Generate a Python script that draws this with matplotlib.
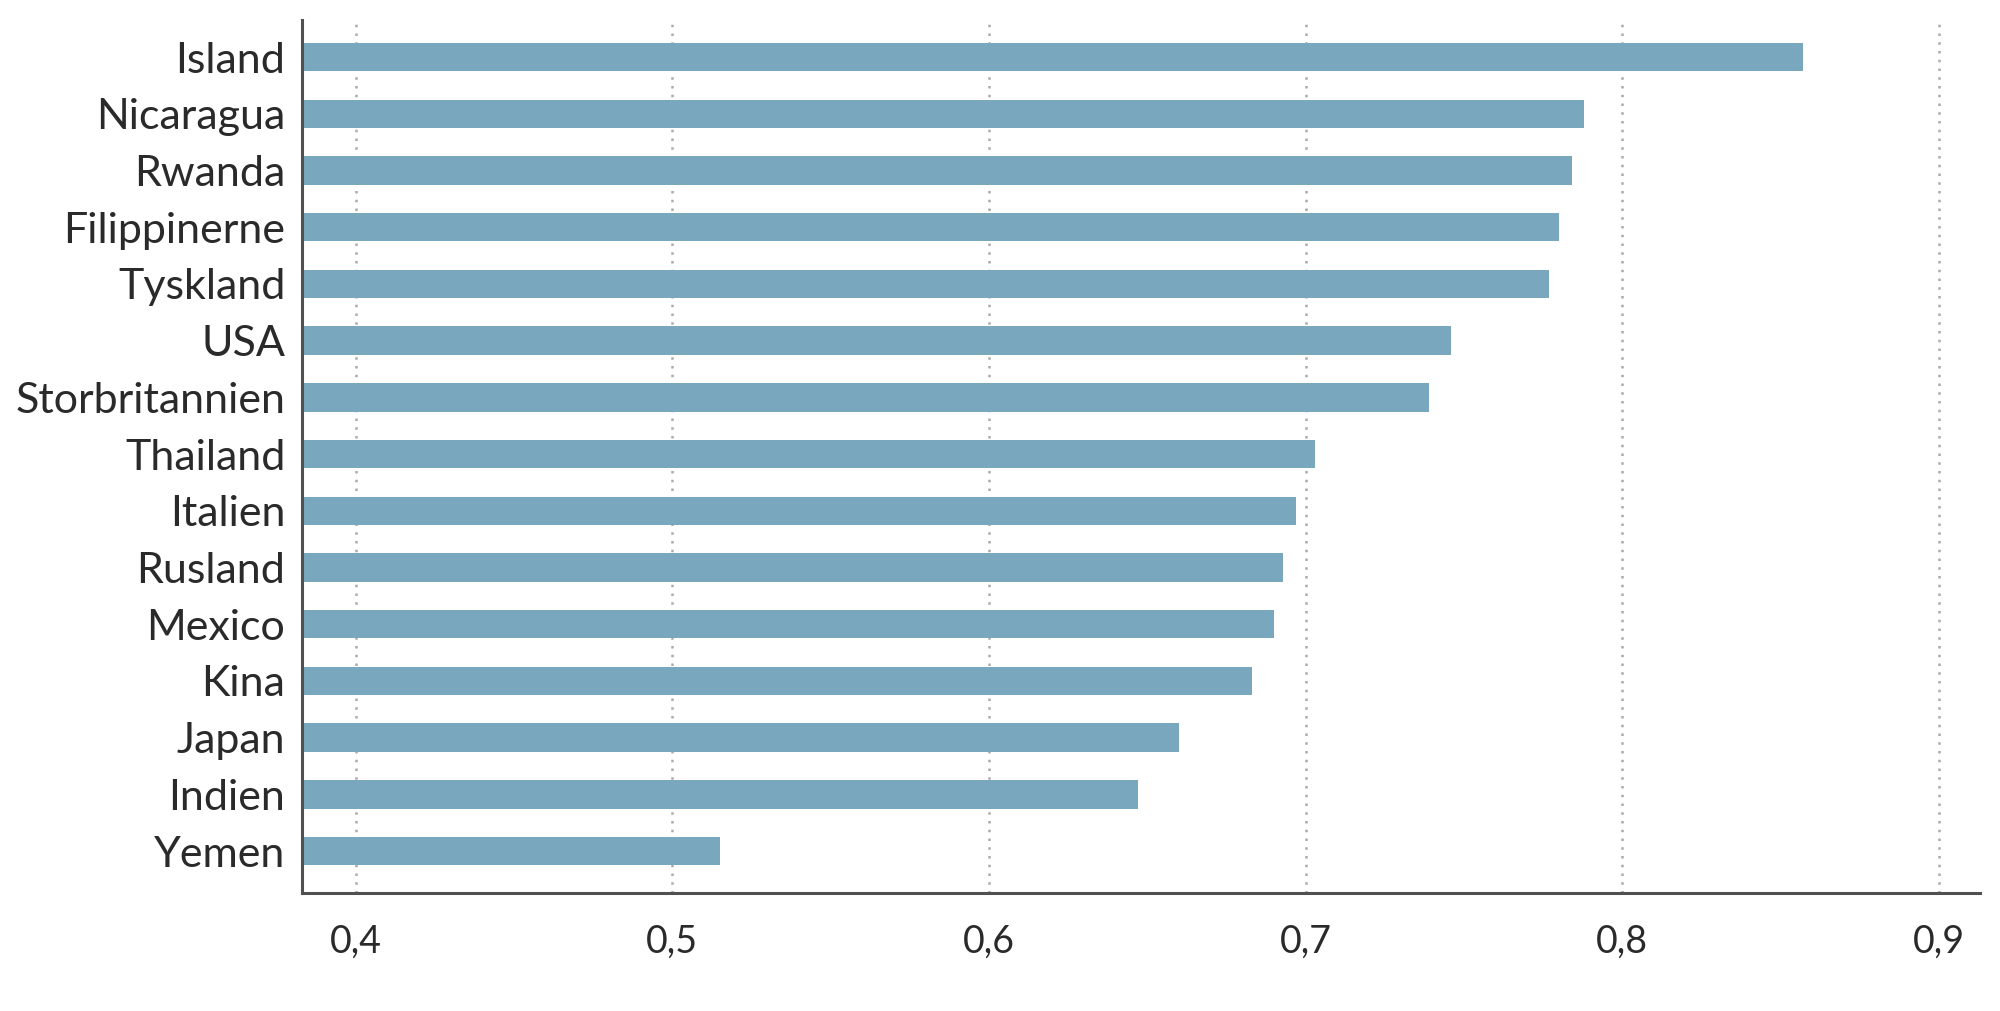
import numpy as np
import matplotlib.pyplot as plt
from matplotlib.ticker import FuncFormatter

countries = ['Island', 'Nicaragua', 'Rwanda', 'Filippinerne', 'Tyskland', 'USA',
             'Storbritannien', 'Thailand', 'Italien', 'Rusland', 'Mexico', 'Kina',
             'Japan', 'Indien', 'Yemen']
values = [0.857, 0.788, 0.784, 0.780, 0.777, 0.746, 0.739, 0.703, 0.697, 0.693,
          0.690, 0.683, 0.660, 0.647, 0.515]
xticks = [0.4, 0.5, 0.6, 0.7, 0.8, 0.9]

plt.rcParams['font.family'] = ['Lato', 'DejaVu Sans']

fig = plt.figure(figsize=(20, 10.11), dpi=100)
ax = fig.add_axes([0.151, 0.1167, 0.839, 0.8633])

y = np.arange(len(countries))[::-1]
ax.barh(y, values, height=0.5, color='#79a7bd', zorder=2)

ax.set_xlim(0.383, 0.913)
ax.set_ylim(-0.74, 14.65)
ax.set_yticks(y)
ax.set_yticklabels(countries, fontsize=31, color='#2a2a2a')
ax.set_xticks(xticks)
ax.xaxis.set_major_formatter(FuncFormatter(lambda v, p: f'{v:.1f}'.replace('.', ',')))
ax.tick_params(axis='x', length=0, pad=22, labelsize=27, labelcolor='#2a2a2a')
ax.tick_params(axis='y', length=0, pad=12)

ax.grid(axis='x', color='#b3a8a8', ls=(0, (1, 2.5)), lw=1.8, zorder=1)
ax.spines['top'].set_visible(False)
ax.spines['right'].set_visible(False)
for s in ['left', 'bottom']:
    ax.spines[s].set_color('#505050')
    ax.spines[s].set_linewidth(2.2)

fig.savefig('out.png', dpi=100)
